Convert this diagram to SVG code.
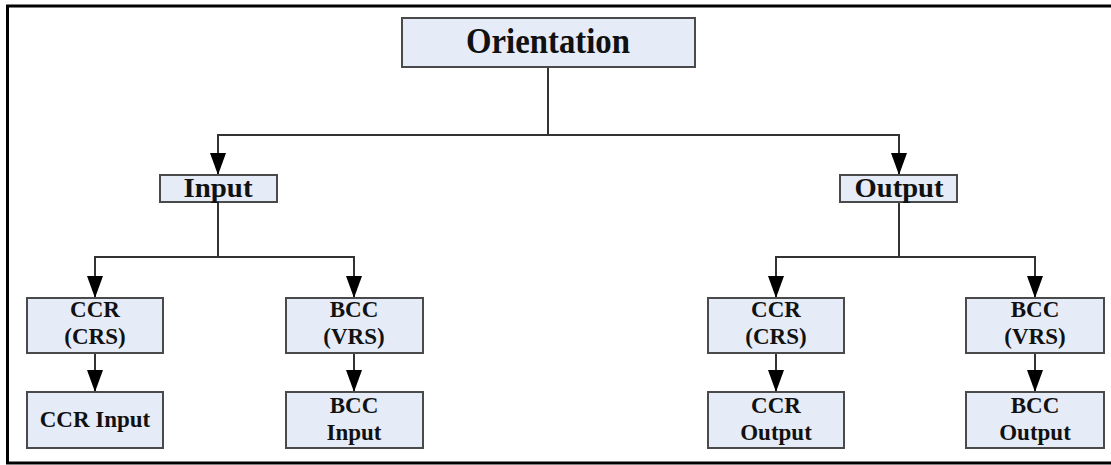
<svg xmlns="http://www.w3.org/2000/svg" width="1111" height="465" viewBox="0 0 1111 465">
<style>
.box{fill:#e6ecf7;stroke:#4a4a4a;stroke-width:2}
.t{font-family:"Liberation Serif","Times New Roman",serif;font-weight:bold;fill:#111;text-anchor:middle}
.c{fill:none;stroke:#333;stroke-width:2}
</style>
<defs>
<marker id="ah" markerUnits="userSpaceOnUse" viewBox="0 0 22 16" refX="22" refY="8" markerWidth="22" markerHeight="16" orient="auto">
<path d="M0,0 L22,8 L0,16 z" fill="#000"/>
</marker>
</defs>
<rect width="1111" height="465" fill="#fff"/>
<path d="M1111,6 H7.5 V463 H1111" fill="none" stroke="#000" stroke-width="3"/>
<g id="connectors">
<path class="c" d="M548,67 V135 H218 V175" marker-end="url(#ah)"/>
<path class="c" d="M548,135 H899 V175" marker-end="url(#ah)"/>
<path class="c" d="M218,202 V257 H95 V298" marker-end="url(#ah)"/>
<path class="c" d="M218,257 H354 V298" marker-end="url(#ah)"/>
<path class="c" d="M899,202 V257 H776 V298" marker-end="url(#ah)"/>
<path class="c" d="M899,257 H1035 V298" marker-end="url(#ah)"/>
<path class="c" d="M95,353 V392" marker-end="url(#ah)"/>
<path class="c" d="M354,353 V392" marker-end="url(#ah)"/>
<path class="c" d="M776,353 V392" marker-end="url(#ah)"/>
<path class="c" d="M1035,353 V392" marker-end="url(#ah)"/>
</g>
<g id="orientation">
<rect class="box" x="402" y="18" width="293" height="49"/>
<text class="t" x="548" y="53" font-size="36" textLength="164" lengthAdjust="spacingAndGlyphs">Orientation</text>
</g>
<g id="input">
<rect class="box" x="160" y="175" width="117" height="27"/>
<text class="t" x="218" y="197" font-size="27" textLength="69" lengthAdjust="spacingAndGlyphs">Input</text>
</g>
<g id="output">
<rect class="box" x="840" y="175" width="117" height="27"/>
<text class="t" x="899" y="197" font-size="28" textLength="89" lengthAdjust="spacingAndGlyphs">Output</text>
</g>
<g id="ccr-in">
<rect class="box" x="27" y="298" width="136" height="55"/>
<text class="t" x="95" y="317" font-size="23">CCR</text>
<text class="t" x="95" y="344" font-size="23">(CRS)</text>
</g>
<g id="bcc-in">
<rect class="box" x="286" y="298" width="137" height="55"/>
<text class="t" x="354" y="317" font-size="23">BCC</text>
<text class="t" x="354" y="344" font-size="23">(VRS)</text>
</g>
<g id="ccr-input">
<rect class="box" x="27" y="392" width="136" height="56"/>
<text class="t" x="95" y="427" font-size="23">CCR Input</text>
</g>
<g id="bcc-input">
<rect class="box" x="286" y="392" width="137" height="56"/>
<text class="t" x="354" y="413" font-size="23">BCC</text>
<text class="t" x="354" y="440" font-size="23">Input</text>
</g>
<g id="ccr-out">
<rect class="box" x="708" y="298" width="136" height="55"/>
<text class="t" x="776" y="317" font-size="23">CCR</text>
<text class="t" x="776" y="344" font-size="23">(CRS)</text>
</g>
<g id="bcc-out">
<rect class="box" x="966" y="298" width="138" height="55"/>
<text class="t" x="1035" y="317" font-size="23">BCC</text>
<text class="t" x="1035" y="344" font-size="23">(VRS)</text>
</g>
<g id="ccr-output">
<rect class="box" x="708" y="392" width="136" height="56"/>
<text class="t" x="776" y="413" font-size="23">CCR</text>
<text class="t" x="776" y="440" font-size="23">Output</text>
</g>
<g id="bcc-output">
<rect class="box" x="966" y="392" width="138" height="56"/>
<text class="t" x="1035" y="413" font-size="23">BCC</text>
<text class="t" x="1035" y="440" font-size="23">Output</text>
</g>
</svg>
